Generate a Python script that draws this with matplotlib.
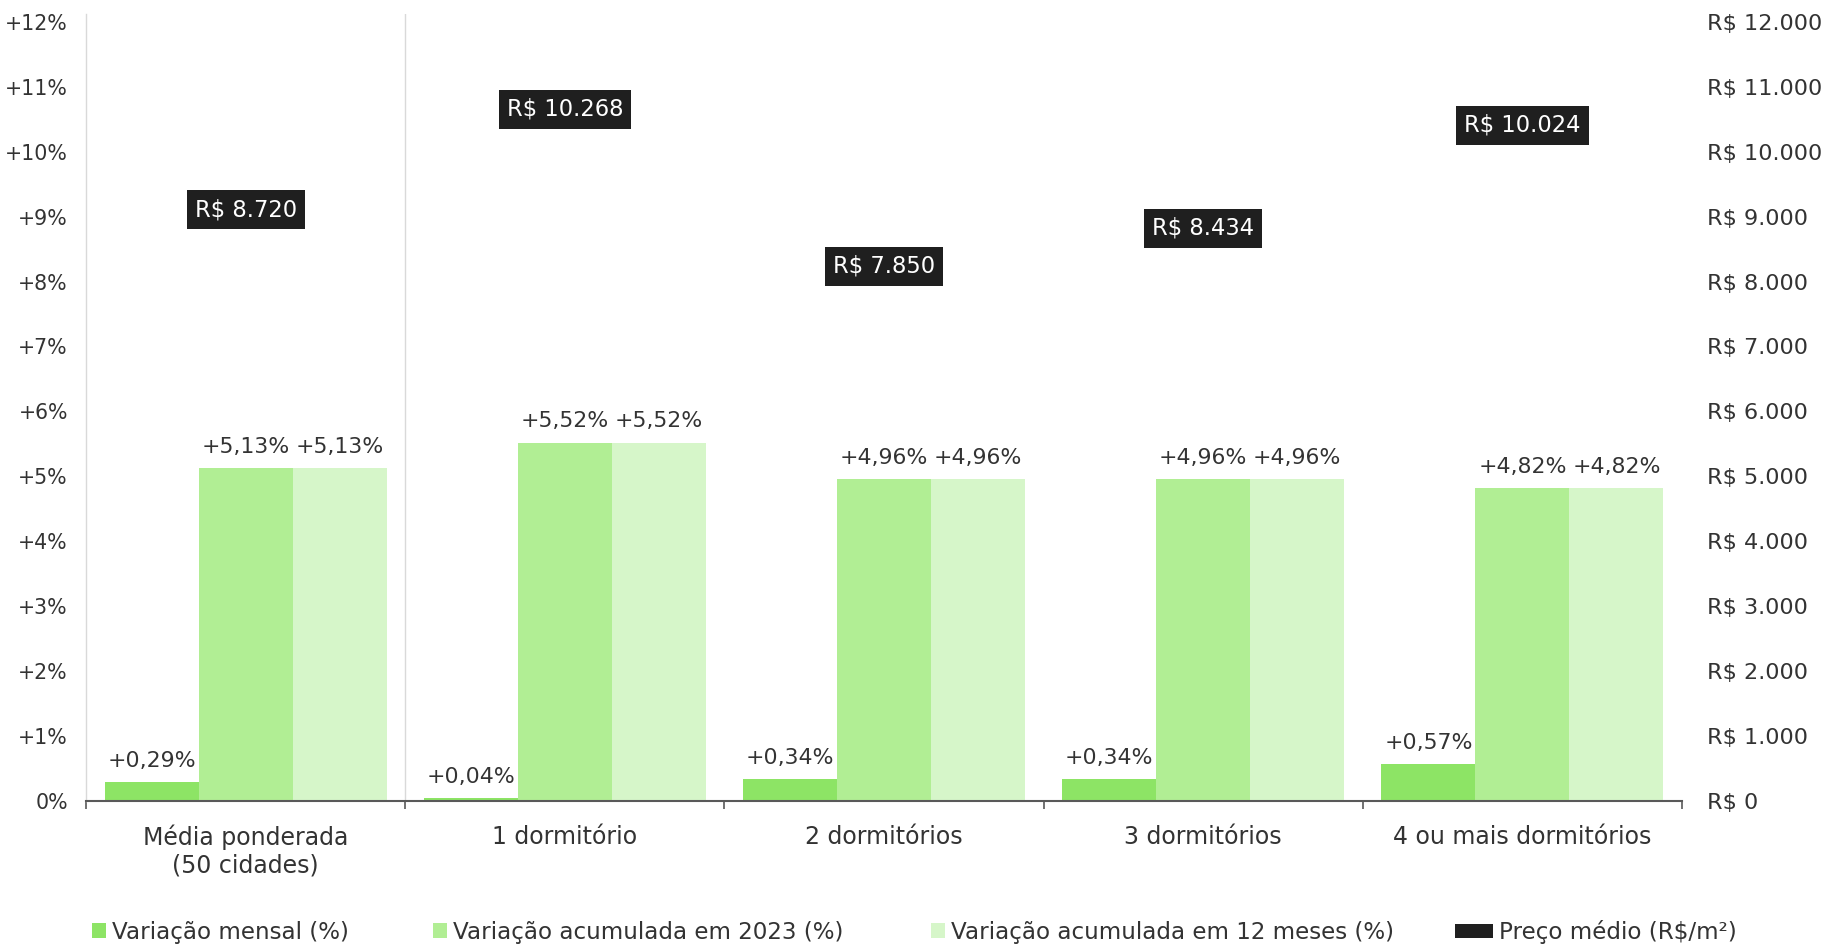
import matplotlib
matplotlib.use("Agg")
import matplotlib.pyplot as plt
from matplotlib.patches import Patch
import numpy as np

plt.rcParams['font.family'] = ['DejaVu Sans']

categories = ["Média ponderada\n(50 cidades)", "1 dormitório", "2 dormitórios",
              "3 dormitórios", "4 ou mais dormitórios"]
var_mensal = [0.29, 0.04, 0.34, 0.34, 0.57]
var_2023 = [5.13, 5.52, 4.96, 4.96, 4.82]
var_12m = [5.13, 5.52, 4.96, 4.96, 4.82]
preco = [8720, 10268, 7850, 8434, 10024]
series_names = ["Variação mensal (%)", "Variação acumulada em 2023 (%)",
                "Variação acumulada em 12 meses (%)", "Preço médio (R$/m²)"]
pct_ticks = list(range(0, 13))
price_ticks = list(range(0, 13000, 1000))

C1, C2, C3 = "#8de465", "#b1ee94", "#d6f6c9"
CBOX = "#1f1f1f"
TXT = "#333333"

W, H = 1825, 946
fig = plt.figure(figsize=(W / 100, H / 100), dpi=100)
left, right, bottom, top = 86, 1682, 801, 14
ax = fig.add_axes([left / W, 1 - bottom / H, (right - left) / W, (bottom - top) / H])

x = np.arange(len(categories))
bw = 0.2945
series = [var_mensal, var_2023, var_12m]
colors = [C1, C2, C3]
for i, (vals, col) in enumerate(zip(series, colors)):
    xs = x + (i - 1) * bw
    ax.bar(xs, vals, width=bw, color=col, zorder=2, linewidth=0)
    for xi, v in zip(xs, vals):
        ax.annotate(("+%.2f%%" % v).replace(".", ","), (xi, v), xytext=(0, 11),
                    textcoords="offset points", ha="center", va="baseline",
                    fontsize=15.8, color=TXT)

ax.set_ylim(0, 12.12)
ax.set_xlim(-0.5, len(categories) - 0.5)
ax.set_yticks(pct_ticks)
ax.set_yticklabels(["0%"] + ["+%d%%" % t for t in pct_ticks[1:]])
ax.tick_params(axis="y", length=0, pad=13, labelsize=14.8, labelcolor=TXT)
ax.set_xticks(x)
ax.set_xticklabels(categories, fontsize=17, color=TXT, linespacing=1.2)
ax.set_xticks(np.arange(-0.5, len(categories)), minor=True)
ax.tick_params(axis="x", which="major", length=0, pad=17)
ax.tick_params(axis="x", which="minor", length=5.5, width=1.2, color="#595959", direction="out")

for s in ["top", "right"]:
    ax.spines[s].set_visible(False)
ax.spines["left"].set_color("#d9d9d9")
ax.spines["left"].set_linewidth(1)
ax.spines["bottom"].set_color("#595959")
ax.spines["bottom"].set_linewidth(1.5)
ax.spines["bottom"].set_zorder(3)
ax.axvline(0.5, color="#d9d9d9", lw=1, zorder=1)

ax2 = ax.twinx()
ax2.set_ylim(0, 12120)
ax2.plot(x, preco, linestyle="none", marker="none")
for s in ax2.spines.values():
    s.set_visible(False)
ax2.set_yticks(price_ticks)
ax2.set_yticklabels(["R$ 0"] + ["R$ " + f"{t:,}".replace(",", ".") for t in price_ticks[1:]])
ax2.tick_params(axis="y", length=0, pad=18, labelsize=16.1, labelcolor=TXT)
for xi, p in zip(x, preco):
    ax2.annotate("R$ " + f"{p:,}".replace(",", "."), (xi, p), xytext=(0, 18),
                 textcoords="offset points", ha="center", va="center",
                 fontsize=16.3, color="white",
                 bbox=dict(boxstyle="square,pad=0.35", fc=CBOX, ec="none"))

leg_x = [92, 433, 931, 1455]
fs = 16.6
for name, col, lx in zip(series_names, [C1, C2, C3, CBOX], leg_x):
    hl = 1.65 if col == CBOX else 0.6
    fig.legend(handles=[Patch(facecolor=col, edgecolor="none")], labels=[name],
               loc="center left", bbox_to_anchor=(lx / W, 1 - 932 / H),
               frameon=False, fontsize=fs, handlelength=hl, handleheight=0.6,
               handletextpad=0.26, borderpad=0, borderaxespad=0, labelcolor=TXT)

fig.savefig("out.png", dpi=100)
